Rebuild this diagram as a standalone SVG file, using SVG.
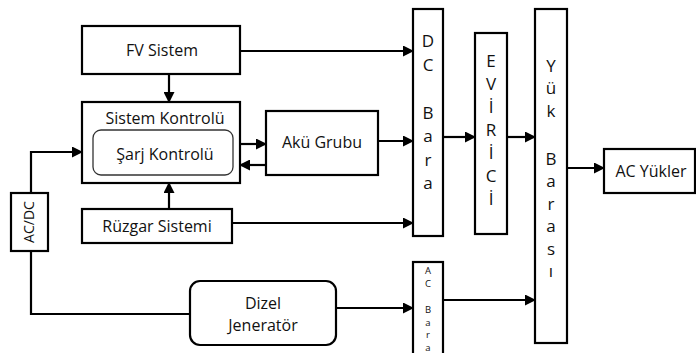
<svg xmlns="http://www.w3.org/2000/svg" width="696" height="353" viewBox="0 0 696 353">
  <style>
    .box { fill: #ffffff; stroke: #000000; stroke-width: 2.2; }
    .inner { fill: #ffffff; stroke: #333333; stroke-width: 1.3; }
    .lbl { font-family: "Open Sans", "Noto Sans", "DejaVu Sans", sans-serif; font-size: 16px; fill: #111111; text-anchor: middle; }
    .bar { font-family: "Open Sans", "Noto Sans", "DejaVu Sans", sans-serif; font-size: 17px; fill: #111111; text-anchor: middle; }
    .small { font-family: "Open Sans", "Noto Sans", "DejaVu Sans", sans-serif; font-size: 9.5px; fill: #111111; text-anchor: middle; }
    .wire { fill: none; stroke: #000000; stroke-width: 2.2; }
  </style>
  <defs>
    <marker id="arrow" markerUnits="userSpaceOnUse" markerWidth="11" markerHeight="11" refX="10" refY="5.5" orient="auto">
      <path d="M0,0 L11,5.5 L0,11 z" fill="#000000"/>
    </marker>
  </defs>

  <rect width="696" height="353" fill="#ffffff"/>

  <!-- connectors -->
  <g id="connectors">
    <line class="wire" x1="240" y1="51" x2="413" y2="51" marker-end="url(#arrow)"/>
    <line class="wire" x1="169" y1="74" x2="169" y2="102" marker-end="url(#arrow)"/>
    <line class="wire" x1="240" y1="144" x2="266" y2="144" marker-end="url(#arrow)"/>
    <line class="wire" x1="266" y1="165" x2="240" y2="165" marker-end="url(#arrow)"/>
    <line class="wire" x1="378" y1="141" x2="413" y2="141" marker-end="url(#arrow)"/>
    <line class="wire" x1="169" y1="209" x2="169" y2="183" marker-end="url(#arrow)"/>
    <line class="wire" x1="232" y1="223" x2="413" y2="223" marker-end="url(#arrow)"/>
    <polyline class="wire" points="31,193 31,152 82,152" marker-end="url(#arrow)"/>
    <polyline class="wire" points="190,314 31,314 31,251"/>
    <line class="wire" x1="336" y1="308" x2="413" y2="308" marker-end="url(#arrow)"/>
    <line class="wire" x1="443" y1="137" x2="475" y2="137" marker-end="url(#arrow)"/>
    <line class="wire" x1="507" y1="137" x2="535" y2="137" marker-end="url(#arrow)"/>
    <line class="wire" x1="567" y1="168" x2="604" y2="168" marker-end="url(#arrow)"/>
    <line class="wire" x1="443" y1="300" x2="535" y2="300" marker-end="url(#arrow)"/>
  </g>

  <g id="fv-sistem">
    <rect class="box" x="82" y="26" width="158" height="48"/>
    <text class="lbl" x="162" y="56">FV Sistem</text>
  </g>

  <g id="sistem-kontrolu">
    <rect class="box" x="82" y="102" width="158" height="81"/>
    <text class="lbl" x="165" y="124">Sistem Kontrolü</text>
  </g>

  <g id="sarj-kontrolu">
    <rect class="inner" x="93" y="130" width="140" height="45" rx="8" ry="8"/>
    <text class="lbl" x="165" y="160">Şarj Kontrolü</text>
  </g>

  <g id="aku-grubu">
    <rect class="box" x="266" y="111" width="112" height="64"/>
    <text class="lbl" x="322" y="148">Akü Grubu</text>
  </g>

  <g id="ruzgar-sistemi">
    <rect class="box" x="82" y="209" width="150" height="34"/>
    <text class="lbl" x="157" y="232">Rüzgar Sistemi</text>
  </g>

  <g id="ac-dc">
    <rect class="box" x="11" y="193" width="37" height="58"/>
    <text class="lbl" transform="translate(34,222) rotate(-90)" style="font-size:14px">AC/DC</text>
  </g>

  <g id="dizel-jenerator">
    <rect class="box" x="190" y="281" width="146" height="64" rx="10" ry="10"/>
    <text class="lbl" x="263" y="309">Dizel</text>
    <text class="lbl" x="263" y="331">Jeneratör</text>
  </g>

  <g id="dc-bara">
    <rect class="box" x="413" y="9" width="30" height="227"/>
    <text class="bar" x="428" y="47">D</text>
    <text class="bar" x="428" y="71">C</text>
    <text class="bar" x="428" y="119">B</text>
    <text class="bar" x="428" y="142">a</text>
    <text class="bar" x="428" y="166">r</text>
    <text class="bar" x="428" y="189">a</text>
  </g>

  <g id="evirici">
    <rect class="box" x="475" y="33" width="32" height="201"/>
    <text class="bar" x="491" y="67">E</text>
    <text class="bar" x="491" y="90">V</text>
    <text class="bar" x="491" y="113">İ</text>
    <text class="bar" x="491" y="136">R</text>
    <text class="bar" x="491" y="159">İ</text>
    <text class="bar" x="491" y="182">C</text>
    <text class="bar" x="491" y="205">İ</text>
  </g>

  <g id="yuk-barasi">
    <rect class="box" x="535" y="9" width="32" height="334"/>
    <text class="bar" x="551" y="72">Y</text>
    <text class="bar" x="551" y="94">ü</text>
    <text class="bar" x="551" y="117">k</text>
    <text class="bar" x="551" y="165">B</text>
    <text class="bar" x="551" y="187">a</text>
    <text class="bar" x="551" y="210">r</text>
    <text class="bar" x="551" y="232">a</text>
    <text class="bar" x="551" y="255">s</text>
    <text class="bar" x="551" y="277">ı</text>
  </g>

  <g id="ac-bara">
    <rect class="box" x="413" y="262" width="30" height="100"/>
    <text class="small" x="428" y="274">A</text>
    <text class="small" x="428" y="287">C</text>
    <text class="small" x="428" y="313">B</text>
    <text class="small" x="428" y="326">a</text>
    <text class="small" x="428" y="338">r</text>
    <text class="small" x="428" y="351">a</text>
  </g>

  <g id="ac-yukler">
    <rect class="box" x="604" y="149" width="91" height="44"/>
    <text class="lbl" x="651" y="177">AC Yükler</text>
  </g>
</svg>
